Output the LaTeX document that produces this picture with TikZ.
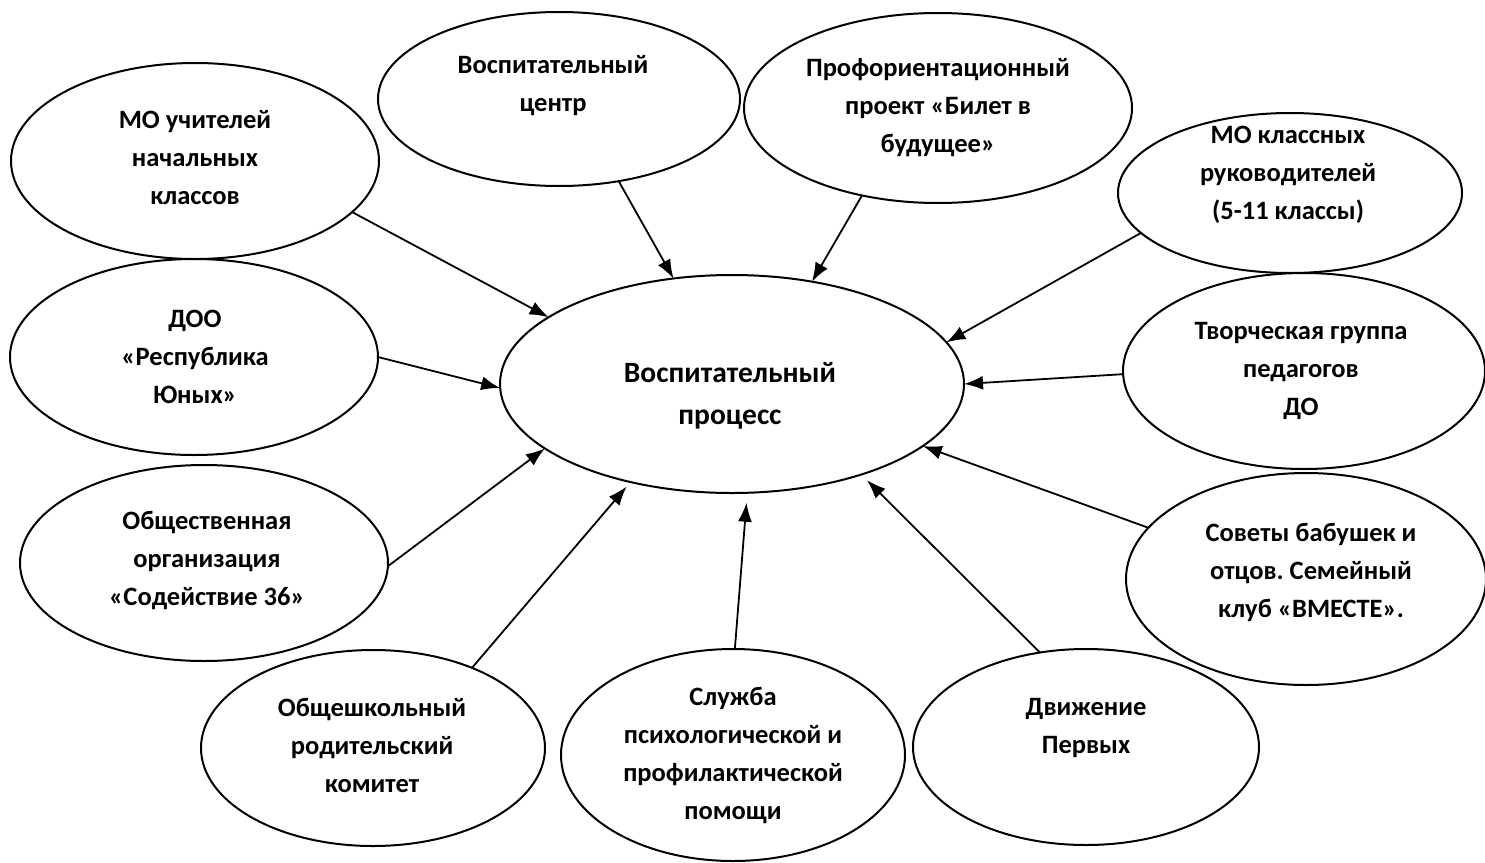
\documentclass[tikz,border=0pt]{standalone}
\usepackage{fontspec}
\setmainfont{Carlito}
\usetikzlibrary{shapes.geometric,arrows.meta}
\begin{document}
\frenchspacing
\begin{tikzpicture}[x=1pt,y=-1pt,
  bub/.style={draw,ellipse,line width=2pt,inner sep=0pt,outer sep=0pt},
  lbl/.style={align=center,inner sep=0pt,font=\fontsize{26.5}{38}\selectfont\bfseries},
  biglbl/.style={align=center,inner sep=0pt,font=\fontsize{29.5}{42}\selectfont\bfseries},
  arr/.style={line width=1.8pt,-{Latex[length=19pt,width=14pt]}}]
\useasboundingbox[fill=white] (0,0) rectangle (1485,862);
% ellipses
\node[bub,minimum width=368pt,minimum height=196pt] (mo1) at (195,161) {};
\node[bub,minimum width=362pt,minimum height=174pt] (vc) at (559,99) {};
\node[bub,minimum width=388pt,minimum height=190pt] (prof) at (938,108) {};
\node[bub,minimum width=344pt,minimum height=160pt] (mo2) at (1290,193) {};
\node[bub,minimum width=368pt,minimum height=196pt] (doo) at (194,357) {};
\node[bub,minimum width=362pt,minimum height=196pt] (tvor) at (1304,371) {};
\node[bub,minimum width=464pt,minimum height=218pt] (c) at (732,384) {};
\node[bub,minimum width=368pt,minimum height=196pt] (obsch) at (204,563) {};
\node[bub,minimum width=360pt,minimum height=212pt] (sov) at (1306,579) {};
\node[bub,minimum width=344pt,minimum height=196pt] (rod) at (373,748) {};
\node[bub,minimum width=344pt,minimum height=212pt] (sl) at (733,755) {};
\node[bub,minimum width=346pt,minimum height=196pt] (dv) at (1086,747) {};
% labels
\node[lbl] (tmo1) at (195,158) {МО учителей\\начальных\\классов};
\node[lbl] (tvc) at (553,86) {Воспитательный\\центр};
\node[lbl] (tprof) at (938,108) {Профориентационный\\проект «Билет в\\будущее»};
\node[lbl] (tmo2) at (1288,175) {МО классных\\руководителей\\(5-11 классы)};
\node[lbl] (tdoo) at (195,357) {ДОО\\«Республика\\Юных»};
\node[lbl] (ttvor) at (1301,371) {Творческая группа\\педагогов\\ДО};
\node[biglbl] (tc) at (730,396) {Воспитательный\\процесс};
\node[lbl] (tobsch) at (207,560) {Общественная\\организация\\«Содействие 36»};
\node[lbl] (tsov) at (1311,572) {Советы бабушек и\\отцов. Семейный\\клуб «ВМЕСТЕ».};
\node[lbl] (trod) at (372,745) {Общешкольный\\родительский\\комитет};
\node[lbl] (tsl) at (733,755) {Служба\\психологической и\\профилактической\\помощи};
\node[lbl] (tdv) at (1086,728) {Движение\\Первых};
% arrows
\draw[arr] (mo1.-18) -- (c.160.6);
\draw[arr] (vc.-54) -- (c.119.8);
\draw[arr] (prof.-131.9) -- (c.52);
\draw[arr] (mo2.-165.4) -- (c.11.5);
\draw[arr] (doo.-0.6) -- (c.181);
\draw[arr] (tvor.-179.4) -- (c.-0.2);
\draw[arr] (obsch.-1) -- (c.-161.9);
\draw[arr,shorten >=6pt] (rod.39.6) -- (c.-136.1);
\draw[arr,shorten >=10pt] (sl.89.5) -- (c.-82.4);
\draw[arr,shorten >=8pt] (dv.116.6) -- (c.-35);
\draw[arr] (sov.162) -- (c.-18.5);
\end{tikzpicture}
\end{document}
